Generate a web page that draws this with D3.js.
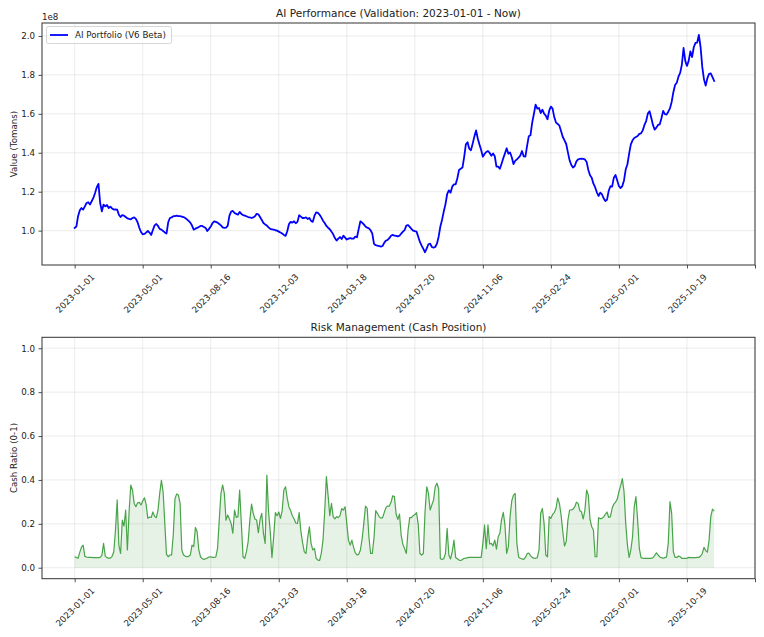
<!DOCTYPE html>
<html>
<head>
<meta charset="utf-8">
<script src="https://cdn.jsdelivr.net/npm/d3@7/dist/d3.min.js"></script>
<style>
  html, body { margin: 0; padding: 0; background: #fff; }
  svg { display: block; }
  text { font-family: "DejaVu Sans", sans-serif; fill: #222; }
</style>
</head>
<body>
<script>
// ---- Data (index = trading-day step, 40 steps per labelled tick) ----
const tickLabels = ["2023-01-01","2023-05-01","2023-08-16","2023-12-03","2024-03-18",
                    "2024-07-20","2024-11-06","2025-02-24","2025-07-01","2025-10-19",""];
const stepsPerTick = 40;

// Portfolio value in units of 1e8 Tomans
const portfolioValue = [
1.014,1.021,1.074,1.104,1.116,1.108,1.125,1.142,1.146,1.134,
1.151,1.168,1.193,1.223,1.240,1.142,1.099,1.134,1.125,1.132,
1.116,1.123,1.114,1.108,1.109,1.108,1.082,1.070,1.080,1.077,
1.070,1.063,1.060,1.058,1.065,1.068,1.060,1.043,1.015,0.993,
0.981,0.983,0.990,0.998,0.990,0.978,1.003,1.027,1.034,1.024,
1.009,1.005,0.998,0.991,0.985,1.043,1.065,1.068,1.074,1.075,
1.077,1.075,1.074,1.072,1.070,1.065,1.058,1.050,1.041,1.026,
1.005,1.010,1.014,1.019,1.024,1.024,1.019,1.014,0.998,1.009,
1.021,1.038,1.048,1.045,1.041,1.034,1.027,1.017,1.014,1.015,
1.026,1.077,1.098,1.101,1.091,1.086,1.082,1.096,1.086,1.080,
1.077,1.074,1.070,1.068,1.065,1.068,1.074,1.086,1.084,1.070,
1.055,1.039,1.032,1.026,1.017,1.009,1.007,1.005,1.002,1.000,
0.995,0.990,0.985,0.978,0.973,0.997,1.034,1.045,1.041,1.048,
1.038,1.045,1.079,1.072,1.065,1.065,1.068,1.060,1.065,1.050,
1.045,1.077,1.094,1.091,1.082,1.068,1.051,1.039,1.024,1.015,
1.007,0.995,0.981,0.962,0.949,0.959,0.967,0.957,0.974,0.964,
0.954,0.959,0.962,0.959,0.959,0.969,0.966,1.009,1.048,1.041,
1.032,1.021,1.015,1.012,1.002,0.985,0.932,0.925,0.923,0.921,
0.918,0.921,0.937,0.949,0.952,0.961,0.974,0.978,0.974,0.973,
0.971,0.974,0.985,0.995,1.003,1.026,1.029,1.019,1.009,1.000,
0.997,0.995,0.969,0.942,0.923,0.906,0.889,0.909,0.930,0.933,
0.916,0.913,0.916,0.933,0.969,1.021,1.055,1.098,1.135,1.187,
1.207,1.195,1.226,1.238,1.238,1.269,1.312,1.318,1.324,1.378,
1.443,1.454,1.421,1.413,1.447,1.483,1.515,1.473,1.443,1.414,
1.380,1.394,1.404,1.409,1.399,1.385,1.396,1.382,1.329,1.329,
1.318,1.344,1.372,1.397,1.423,1.395,1.401,1.377,1.342,1.358,
1.366,1.375,1.385,1.409,1.382,1.380,1.435,1.485,1.490,1.555,
1.599,1.647,1.627,1.630,1.604,1.621,1.601,1.591,1.572,1.616,
1.637,1.627,1.582,1.555,1.548,1.539,1.510,1.481,1.464,1.445,
1.402,1.361,1.337,1.324,1.332,1.356,1.366,1.368,1.370,1.368,
1.366,1.353,1.312,1.284,1.272,1.241,1.223,1.197,1.178,1.195,
1.187,1.166,1.152,1.159,1.205,1.228,1.226,1.272,1.286,1.257,
1.228,1.219,1.229,1.259,1.315,1.341,1.396,1.443,1.464,1.476,
1.481,1.486,1.497,1.500,1.515,1.543,1.563,1.601,1.613,1.580,
1.543,1.519,1.529,1.543,1.546,1.577,1.615,1.598,1.596,1.611,
1.628,1.661,1.711,1.748,1.760,1.791,1.810,1.853,1.938,1.872,
1.846,1.872,1.921,1.892,1.942,1.964,1.966,2.005,1.943,1.841,
1.777,1.745,1.783,1.805,1.808,1.789,1.769
];

// Cash ratio (0-1)
const cashRatio = [
0.050,0.047,0.043,0.070,0.094,0.103,0.052,0.049,0.047,0.047,
0.047,0.046,0.046,0.046,0.046,0.047,0.056,0.111,0.053,0.046,
0.044,0.044,0.052,0.073,0.172,0.309,0.103,0.065,0.217,0.190,
0.263,0.081,0.255,0.377,0.354,0.293,0.278,0.296,0.298,0.286,
0.304,0.319,0.290,0.226,0.231,0.229,0.254,0.234,0.228,0.263,
0.339,0.398,0.347,0.202,0.061,0.050,0.058,0.058,0.154,0.316,
0.336,0.331,0.293,0.081,0.058,0.053,0.050,0.052,0.058,0.103,
0.096,0.184,0.164,0.081,0.050,0.041,0.038,0.041,0.044,0.049,
0.050,0.047,0.047,0.049,0.088,0.217,0.339,0.377,0.339,0.217,
0.240,0.222,0.202,0.157,0.263,0.229,0.233,0.354,0.202,0.050,
0.043,0.073,0.119,0.217,0.290,0.248,0.222,0.217,0.160,0.220,
0.248,0.157,0.111,0.422,0.255,0.164,0.047,0.141,0.251,0.237,
0.254,0.225,0.260,0.354,0.369,0.316,0.277,0.260,0.237,0.223,
0.204,0.202,0.251,0.167,0.114,0.073,0.065,0.138,0.186,0.111,
0.081,0.088,0.043,0.035,0.033,0.065,0.126,0.255,0.415,0.331,
0.237,0.293,0.233,0.223,0.233,0.228,0.237,0.269,0.263,0.278,
0.201,0.126,0.103,0.126,0.093,0.068,0.058,0.061,0.081,0.131,
0.202,0.281,0.271,0.141,0.065,0.065,0.137,0.260,0.248,0.233,
0.226,0.228,0.251,0.274,0.281,0.281,0.298,0.328,0.324,0.245,
0.220,0.245,0.146,0.106,0.087,0.065,0.169,0.229,0.228,0.237,
0.242,0.251,0.199,0.065,0.058,0.065,0.255,0.369,0.339,0.263,
0.286,0.309,0.369,0.385,0.360,0.041,0.038,0.041,0.065,0.179,
0.058,0.040,0.073,0.126,0.047,0.041,0.035,0.033,0.038,0.043,
0.044,0.046,0.047,0.047,0.047,0.047,0.047,0.047,0.047,0.047,
0.111,0.195,0.087,0.195,0.108,0.111,0.100,0.126,0.085,0.141,
0.157,0.220,0.252,0.195,0.065,0.096,0.233,0.305,0.331,0.339,
0.111,0.049,0.043,0.040,0.038,0.047,0.064,0.067,0.055,0.047,
0.044,0.043,0.046,0.081,0.248,0.270,0.202,0.058,0.050,0.233,
0.225,0.243,0.251,0.271,0.318,0.293,0.240,0.164,0.099,0.119,
0.217,0.263,0.263,0.267,0.277,0.299,0.293,0.260,0.255,0.222,
0.263,0.354,0.331,0.220,0.187,0.172,0.050,0.050,0.228,0.223,
0.225,0.231,0.243,0.254,0.229,0.233,0.271,0.290,0.299,0.313,
0.347,0.374,0.406,0.347,0.202,0.103,0.047,0.081,0.141,0.278,
0.324,0.217,0.088,0.046,0.044,0.043,0.043,0.043,0.043,0.043,
0.046,0.055,0.068,0.059,0.049,0.046,0.043,0.046,0.049,0.111,
0.301,0.248,0.073,0.047,0.047,0.053,0.050,0.043,0.043,0.043,
0.044,0.047,0.046,0.046,0.046,0.046,0.047,0.047,0.053,0.065,
0.093,0.078,0.071,0.126,0.233,0.267,0.258
];

const valueTicks = [1.0, 1.2, 1.4, 1.6, 1.8, 2.0];
const cashTicks = [0.0, 0.2, 0.4, 0.6, 0.8, 1.0];

// ---- Layout ----
const W = 764, H = 637;
const FS = 8.7;
const svg = d3.select("body").append("svg").attr("width", W).attr("height", H);

const xLeft = 42, xRight = 755;
const x = d3.scaleLinear().domain([-19.2, 400]).range([xLeft, xRight]);
const xTickVals = tickLabels.map((d, i) => i * stepsPerTick);

function panel(cfg) {
  const { top, bottom, yDomain, yTicks, yFmt, title, ylabel } = cfg;
  const y = d3.scaleLinear().domain(yDomain).range([bottom, top]);
  const g = svg.append("g");

  // grid
  const grid = g.append("g").attr("stroke", "#b0b0b0").attr("stroke-opacity", 0.3).attr("stroke-width", 0.8);
  grid.selectAll("line.gx").data(xTickVals).join("line")
    .attr("x1", d => x(d)).attr("x2", d => x(d)).attr("y1", top).attr("y2", bottom);
  grid.selectAll("line.gy").data(yTicks).join("line")
    .attr("x1", xLeft).attr("x2", xRight).attr("y1", d => y(d)).attr("y2", d => y(d));

  // y axis
  const yAxis = d3.axisLeft(y).tickValues(yTicks).tickFormat(yFmt).tickSize(3.5).tickPadding(3.5);
  const ya = g.append("g").attr("transform", `translate(${xLeft},0)`).call(yAxis);
  ya.select(".domain").remove();
  ya.selectAll("text").attr("font-size", FS).attr("font-family", "DejaVu Sans").attr("fill", "#222");
  ya.selectAll("line").attr("stroke", "#222").attr("stroke-width", 0.8);

  // x axis
  const xAxis = d3.axisBottom(x).tickValues(xTickVals).tickFormat((d, i) => tickLabels[i]).tickSize(3.5);
  const xa = g.append("g").attr("transform", `translate(0,${bottom})`).call(xAxis);
  xa.select(".domain").remove();
  xa.selectAll("line").attr("stroke", "#222").attr("stroke-width", 0.8);
  xa.selectAll("text").each(function(d) {
    const t = d3.select(this);
    t.attr("font-size", FS).attr("font-family", "DejaVu Sans").attr("fill", "#222")
     .attr("text-anchor", "middle").attr("dy", "0.35em").attr("y", 0);
    const L = this.getComputedTextLength();
    const h = FS * 1.15;
    const half = (L + h) / Math.SQRT2 / 2;
    t.attr("transform", `translate(0,${3.5 + 3.5 + half}) rotate(-45)`);
  });

  cfg.draw(g, y);

  // spines
  g.append("rect").attr("x", xLeft).attr("y", top).attr("width", xRight - xLeft).attr("height", bottom - top)
    .attr("fill", "none").attr("stroke", "#333").attr("stroke-width", 1);

  // title
  svg.append("text").attr("x", (xLeft + xRight) / 2).attr("y", top - 6)
    .attr("text-anchor", "middle").attr("font-size", 10.5).text(title);
  // y label
  svg.append("text").attr("transform", `translate(17,${(top + bottom) / 2}) rotate(-90)`)
    .attr("text-anchor", "middle").attr("font-size", FS).text(ylabel);
  return y;
}

// Top panel
panel({
  top: 23, bottom: 265, yDomain: [0.8235, 2.0665], yTicks: valueTicks,
  yFmt: d3.format(".1f"),
  title: "AI Performance (Validation: 2023-01-01 - Now)",
  ylabel: "Value (Tomans)",
  draw: (g, y) => {
    const line = d3.line().x((d, i) => x(i)).y(d => y(d));
    g.append("path").datum(portfolioValue).attr("d", line)
      .attr("fill", "none").attr("stroke", "#0000ff").attr("stroke-width", 1.8)
      .attr("stroke-linejoin", "round").attr("stroke-linecap", "square");
  }
});
svg.append("text").attr("x", 42).attr("y", 20).attr("font-size", FS).text("1e8");

// Legend
const lg = svg.append("g");
lg.append("rect").attr("x", 46.5).attr("y", 26.5).attr("width", 125).attr("height", 17).attr("rx", 2)
  .attr("fill", "#fff").attr("fill-opacity", 0.8).attr("stroke", "#cccccc").attr("stroke-width", 0.8);
lg.append("line").attr("x1", 50).attr("x2", 68).attr("y1", 35).attr("y2", 35)
  .attr("stroke", "#0000ff").attr("stroke-width", 1.8);
lg.append("text").attr("x", 75).attr("y", 38.2).attr("font-size", FS).text("AI Portfolio (V6 Beta)");

// Bottom panel
panel({
  top: 337.3, bottom: 578.7, yDomain: [-0.05, 1.05], yTicks: cashTicks,
  yFmt: d3.format(".1f"),
  title: "Risk Management (Cash Position)",
  ylabel: "Cash Ratio (0-1)",
  draw: (g, y) => {
    const area = d3.area().x((d, i) => x(i)).y0(y(0)).y1(d => y(d));
    g.append("path").datum(cashRatio).attr("d", area)
      .attr("fill", "#008000").attr("fill-opacity", 0.1);
    const line = d3.line().x((d, i) => x(i)).y(d => y(d));
    g.append("path").datum(cashRatio).attr("d", line)
      .attr("fill", "none").attr("stroke", "#008000").attr("stroke-opacity", 0.7).attr("stroke-width", 1.2)
      .attr("stroke-linejoin", "round");
  }
});
</script>
</body>
</html>
